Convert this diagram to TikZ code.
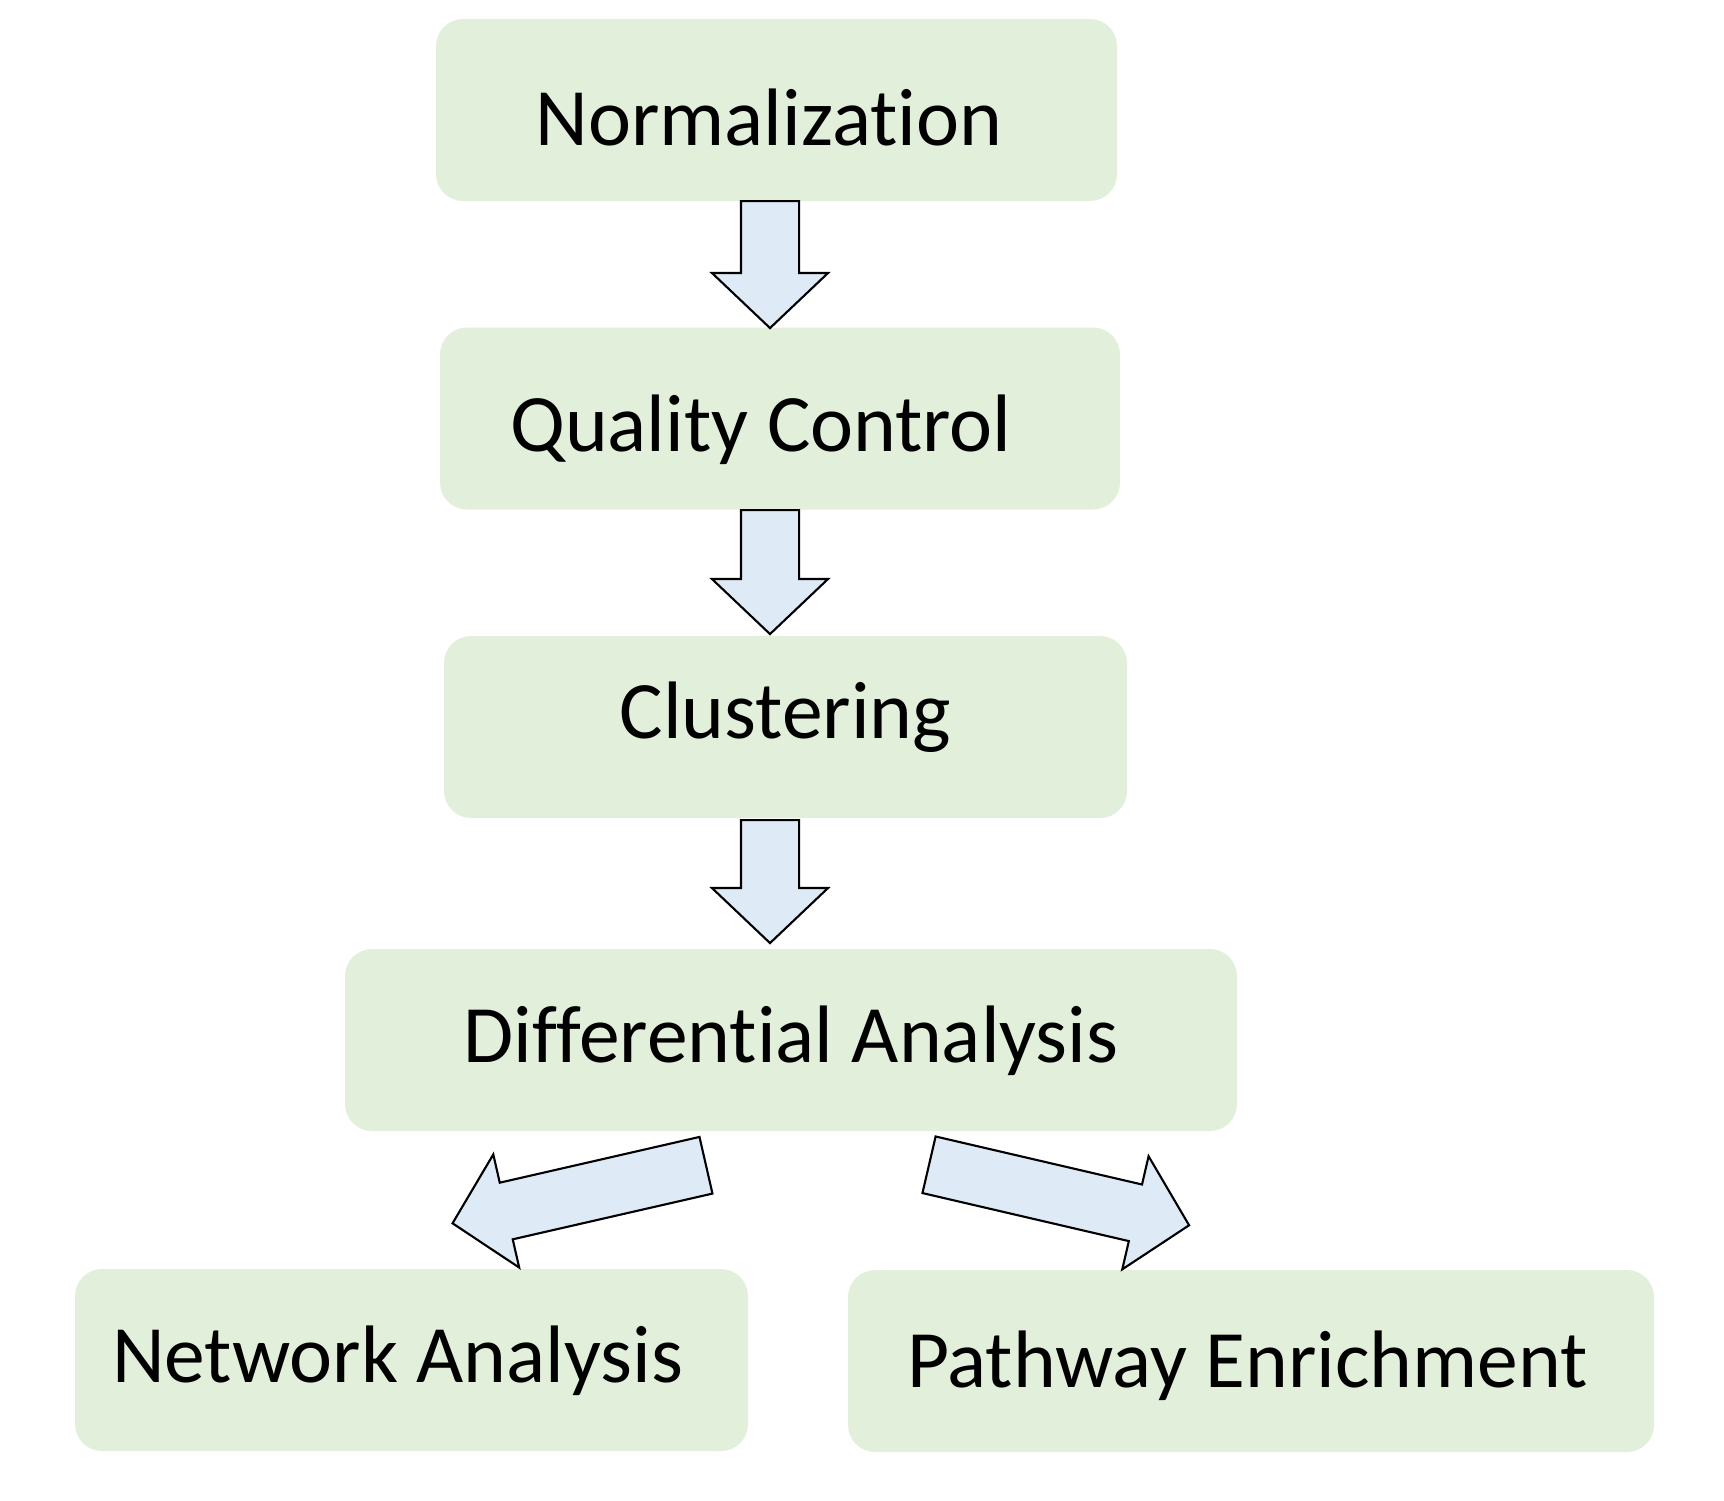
\documentclass[tikz,border=0pt]{standalone}
\usepackage{fontspec}
\setmainfont{Carlito}[Ligatures=NoCommon]
\usetikzlibrary{shapes.arrows}
\definecolor{boxgreen}{HTML}{E2EFDA}
\definecolor{arrowblue}{HTML}{DEEBF7}
\begin{document}
\begin{tikzpicture}[font=\fontsize{23.2}{28}\selectfont,
  stage/.style={fill=boxgreen,rounded corners=0.27cm,minimum height=1.82cm,inner sep=0pt,text depth=0pt},
  blk/.style={single arrow,draw=black,fill=arrowblue,line width=0.6pt,inner xsep=0pt,inner ysep=0.28cm,
    single arrow head extend=0.29cm,single arrow tip angle=93,anchor=tail}]
  \useasboundingbox (0,0) rectangle (17.24,-15);
  % stages
  \node[stage,minimum width=6.81cm,text height=0.70cm] (norm) at (7.765,-1.10){Normalization\hspace*{0.15cm}};
  \node[stage,minimum width=6.80cm,text height=0.65cm] (qc) at (7.80,-4.185){Quality Control\hspace*{0.38cm}};
  \node[stage,minimum width=6.83cm,text height=0.22cm] (clus) at (7.855,-7.27){Clustering};
  \node[stage,minimum width=8.92cm,text height=0.44cm] (diff) at (7.91,-10.40){Differential Analysis};
  \node[stage,minimum width=6.73cm,text height=0.44cm] (net) at (4.115,-13.60){Network Analysis\hspace*{0.28cm}};
  \node[stage,minimum width=8.06cm,text height=0.52cm] (path) at (12.51,-13.61){Pathway Enrichment\hspace*{0.07cm}};
  % block arrows
  \node[blk,rotate=-90,minimum height=1.27cm] (a1) at (7.70,-2.00){};
  \node[blk,rotate=-90,minimum height=1.24cm] (a2) at (7.70,-5.09){};
  \node[blk,rotate=-90,minimum height=1.23cm] (a3) at (7.70,-8.19){};
  \node[blk,rotate=192.9,minimum height=2.60cm] (a4) at (7.07,-11.65){};
  \node[blk,rotate=-13.1,minimum height=2.67cm] (a5) at (9.28,-11.645){};
\end{tikzpicture}
\end{document}
